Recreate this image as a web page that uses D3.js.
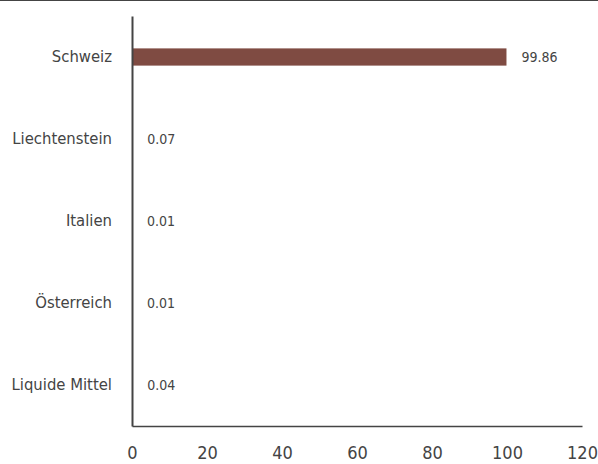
<!DOCTYPE html>
<html>
<head>
<meta charset="utf-8">
<script src="https://cdn.jsdelivr.net/npm/d3@7"></script>
<style>
  body { margin: 0; background: #ffffff; }
  svg text { font-family: "DejaVu Sans Condensed", "Liberation Sans Narrow", "Roboto", sans-serif; fill: #444444; }
</style>
</head>
<body>
<div class="chart"></div>
<script>
// Chart data.
const categories = ["Schweiz", "Liechtenstein", "Italien", "Österreich", "Liquide Mittel"];
const values = [99.86, 0.07, 0.01, 0.01, 0.04];
const xTicks = [0, 20, 40, 60, 80, 100, 120];

const width = 598;
const height = 464;
const margin = { top: 16, right: 16, bottom: 38, left: 132 };

const svg = d3.select(".chart")
  .append("svg")
  .attr("width", width)
  .attr("height", height)
  .attr("viewBox", [0, 0, width, height]);

// Thin rule along the top edge.
svg.append("line")
  .attr("x1", 0).attr("x2", width)
  .attr("y1", 0.5).attr("y2", 0.5)
  .attr("stroke", "#444444")
  .attr("stroke-width", 1);

const x = d3.scaleLinear()
  .domain([0, 120])
  .range([margin.left, width - margin.right]);

const y = d3.scaleBand()
  .domain(categories)
  .range([margin.top, height - margin.bottom])
  .paddingInner(0.79)
  .paddingOuter(0.395);

// Bars.
svg.selectAll(".bar")
  .data(categories)
  .join("rect")
  .attr("class", "bar")
  .attr("x", x(0))
  .attr("y", d => y(d))
  .attr("width", (d, i) => x(values[i]) - x(0))
  .attr("height", y.bandwidth())
  .attr("fill", "#7f4b42");

// Value labels to the right of each bar.
svg.selectAll(".value")
  .data(categories)
  .join("text")
  .attr("class", "value")
  .attr("x", (d, i) => x(values[i]) + 15)
  .attr("y", d => y(d) + y.bandwidth() / 2)
  .attr("dy", "0.35em")
  .attr("font-size", "14px")
  .text((d, i) => values[i]);

// Category axis on the left.
const yAxis = svg.append("g")
  .attr("transform", `translate(${x(0)},0)`)
  .call(d3.axisLeft(y).tickSize(0).tickPadding(20));
yAxis.select(".domain")
  .attr("stroke", "#444444")
  .attr("stroke-width", 2);
yAxis.selectAll("text")
  .attr("font-size", "16.5px")
  .attr("fill", "#444444");

// Value axis at the bottom, no tick marks.
const xAxis = svg.append("g")
  .attr("transform", `translate(0,${height - margin.bottom})`)
  .call(d3.axisBottom(x).tickValues(xTicks).tickSize(0).tickPadding(20));
xAxis.select(".domain")
  .attr("stroke", "#444444")
  .attr("stroke-width", 1.5);
xAxis.selectAll("text")
  .attr("font-size", "18px")
  .attr("fill", "#444444");
</script>
</body>
</html>
